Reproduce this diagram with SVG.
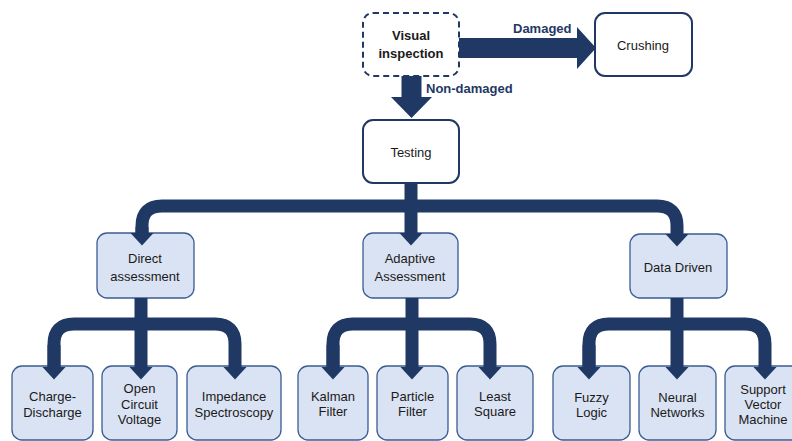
<svg xmlns="http://www.w3.org/2000/svg" width="792" height="441" viewBox="0 0 792 441">
<style>
text{font-family:"Liberation Sans",Arial,sans-serif;font-size:13px;fill:#1a1a1a;text-anchor:middle}
.b{font-weight:bold}
.lbl{font-weight:bold;fill:#1f3864;text-anchor:start}
.top{fill:#ffffff;stroke:#1f3864;stroke-width:2}
.dash{stroke-dasharray:6 4}
.lt{fill:#dae3f3;stroke:#3b5c93;stroke-width:1.3}
.con{fill:none;stroke:#1f3864;stroke-width:13}
.blk{fill:#1f3864}
</style>
<defs>
<marker id="ah" markerUnits="userSpaceOnUse" markerWidth="13" markerHeight="24" viewBox="0 0 13 24" refX="0.5" refY="12" orient="auto">
<path d="M0,0 L13,12 L0,24 Z" fill="#1f3864"/>
</marker>
</defs>
<g id="visual">
<rect class="top dash" x="363" y="13" width="96" height="63" rx="10"/>
<text class="b" x="411" y="40">Visual</text>
<text class="b" x="411" y="58">inspection</text>
</g>
<g id="crushing">
<rect class="top" x="595" y="13" width="97" height="63" rx="10"/>
<text x="643" y="50">Crushing</text>
</g>
<g id="testing">
<rect class="top" x="363" y="120" width="96" height="63" rx="10"/>
<text x="411" y="157">Testing</text>
</g>
<g id="direct">
<rect class="lt" x="97" y="233" width="97" height="65" rx="10"/>
<text x="145" y="263">Direct</text>
<text x="145" y="281">assessment</text>
</g>
<g id="adaptive">
<rect class="lt" x="363" y="233" width="95" height="65" rx="10"/>
<text x="410" y="263">Adaptive</text>
<text x="410" y="281">Assessment</text>
</g>
<g id="datadriven">
<rect class="lt" x="630" y="234" width="97" height="64" rx="10"/>
<text x="678" y="272">Data Driven</text>
</g>
<g id="charge">
<rect class="lt" x="12" y="366" width="81" height="74" rx="10"/>
<text x="52.5" y="401">Charge-</text>
<text x="52.5" y="417">Discharge</text>
</g>
<g id="ocv">
<rect class="lt" x="102" y="366" width="75" height="74" rx="10"/>
<text x="139.5" y="393">Open</text>
<text x="139.5" y="409">Circuit</text>
<text x="139.5" y="424">Voltage</text>
</g>
<g id="impedance">
<rect class="lt" x="187" y="366" width="94" height="74" rx="10"/>
<text x="234" y="401">Impedance</text>
<text x="234" y="417">Spectroscopy</text>
</g>
<g id="kalman">
<rect class="lt" x="298" y="366" width="70" height="74" rx="10"/>
<text x="333" y="401">Kalman</text>
<text x="333" y="416">Filter</text>
</g>
<g id="particle">
<rect class="lt" x="377" y="366" width="71" height="74" rx="10"/>
<text x="412.5" y="401">Particle</text>
<text x="412.5" y="416">Filter</text>
</g>
<g id="least">
<rect class="lt" x="457" y="366" width="76" height="74" rx="10"/>
<text x="495" y="401">Least</text>
<text x="495" y="416">Square</text>
</g>
<g id="fuzzy">
<rect class="lt" x="553" y="366" width="77" height="74" rx="10"/>
<text x="591.5" y="402">Fuzzy</text>
<text x="591.5" y="417">Logic</text>
</g>
<g id="neural">
<rect class="lt" x="639" y="366" width="77" height="74" rx="10"/>
<text x="677.5" y="402">Neural</text>
<text x="677.5" y="417">Networks</text>
</g>
<g id="svm">
<rect class="lt" x="725" y="366" width="77" height="74" rx="10"/>
<text x="763" y="394">Support</text>
<text x="763" y="409">Vector</text>
<text x="763" y="424">Machine</text>
</g>
<g id="connectors">
<polygon class="blk" points="459,38 577,38 577,27 596,48 577,69 577,58 459,58"/>
<polygon class="blk" points="401.5,76 421.5,76 421.5,97 432,97 411.5,118 391,97 401.5,97"/>
<path class="con" d="M411,183 V233" marker-end="url(#ah)"/>
<path class="con" d="M142,233 V226 Q142,206 162,206 H657 Q677,206 677,226 V234" marker-end="url(#ah)"/>
<path class="con" d="M142,227 V233" marker-end="url(#ah)"/>
<path class="con" d="M141,298 V367" marker-end="url(#ah)"/>
<path class="con" d="M54,367 V344 Q54,324 74,324 H215 Q235,324 235,344 V367" marker-end="url(#ah)"/>
<path class="con" d="M54,345 V367" marker-end="url(#ah)"/>
<path class="con" d="M412,298 V367" marker-end="url(#ah)"/>
<path class="con" d="M333,367 V344 Q333,324 353,324 H470 Q490,324 490,344 V367" marker-end="url(#ah)"/>
<path class="con" d="M333,345 V367" marker-end="url(#ah)"/>
<path class="con" d="M677,298 V367" marker-end="url(#ah)"/>
<path class="con" d="M589,367 V344 Q589,324 609,324 H745 Q765,324 765,344 V367" marker-end="url(#ah)"/>
<path class="con" d="M589,345 V367" marker-end="url(#ah)"/>
<text class="lbl" x="513" y="33">Damaged</text>
<text class="lbl" x="426" y="93">Non-damaged</text>
</g>
</svg>
